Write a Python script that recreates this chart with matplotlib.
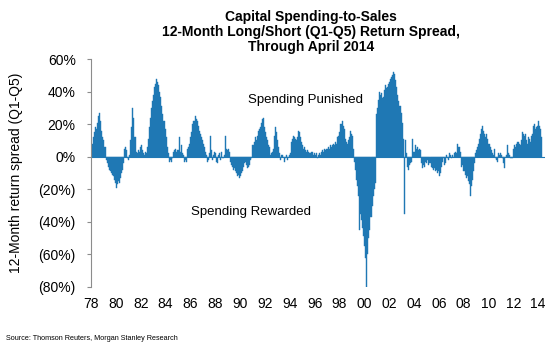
import numpy as np
import matplotlib
matplotlib.use('Agg')
import matplotlib.pyplot as plt

# ── Data: 12-month Q1-Q5 return spread (%), monthly, Jan 1978 - Apr 2014 ──────
start_year = 1978
spread_by_year = {
    1978: [4, 8, 12, 15, 18, 17, 21, 25, 27, 22, 16, 12],
    1979: [10, 6, -2, -4, -6, -8, -9, -10, -11, -12, -14, -16],
    1980: [-19, -17, -15, -16, -13, -10, -8, -4, 5, 6, 4, -1],
    1981: [-2, 1, 10, 18, 30, 24, 12, 3, 2, 4, 3, 6],
    1982: [7, 4, 2, 1, 3, 2, 6, 11, 18, 24, 30, 34],
    1983: [38, 43, 45, 48, 46, 44, 40, 37, 31, 26, 22, 17],
    1984: [12, 6, 2, -3, -2, -3, -1, 3, 4, 5, 3, 4],
    1985: [4, 12, 3, 7, 2, 1, -3, -2, -3, 5, 6, 8],
    1986: [12, 15, 20, 22, 25, 23, 22, 19, 16, 14, 12, 10],
    1987: [8, 6, 3, 1, -3, -2, 2, 13, 4, -2, 1, 3],
    1988: [2, -3, -4, 1, 2, -2, 3, -1, 1, 13, 5, 4],
    1989: [5, 3, -3, -5, -6, -8, -7, -9, -10, -12, -11, -13],
    1990: [-12, -10, -9, -6, -4, -3, -5, -7, -6, -5, -2, -1],
    1991: [7, 9, 12, 10, 13, 16, 17, 18, 21, 23, 24, 18],
    1992: [15, 12, 10, 7, 6, 1, 2, 3, 5, 13, 18, 15],
    1993: [10, 6, 2, -2, 1, 0, -3, -1, 1, -2, 0, 1],
    1994: [2, 9, 11, 13, 12, 11, 10, 12, 16, 15, 12, 9],
    1995: [7, 5, 6, 4, 3, 4, 3, 2, 2, 3, 1, 2],
    1996: [1, 2, -1, 1, 2, 1, 3, 4, 3, 5, 4, 5],
    1997: [5, 6, 5, 7, 6, 7, 8, 7, 9, 8, 12, 13],
    1998: [15, 20, 22, 19, 17, 11, 9, 8, 10, 12, 16, 14],
    1999: [13, 5, -3, -8, -14, -18, -24, -45, -35, -39, -44, -49],
    2000: [-55, -62, -81, -60, -50, -45, -37, -30, -24, -20, -16, 26],
    2001: [30, 35, 40, 38, 39, 36, 37, 41, 44, 42, 43, 45],
    2002: [46, 48, 49, 50, 52, 51, 47, 43, 38, 34, 31, 27],
    2003: [21, 11, -35, 10, 2, -6, -8, -5, -4, -3, 11, 3],
    2004: [3, 7, 5, 6, 4, 5, 4, -4, -7, -5, -6, -3],
    2005: [-4, -2, -5, -4, -6, -7, -8, -7, -9, -8, -10, -9],
    2006: [-12, -10, -6, -3, -1, -5, -4, 1, -1, -2, 2, 1],
    2007: [-1, 1, 0, 2, 3, 2, 8, 6, 3, -6, -5, -9],
    2008: [-9, -11, -13, -12, -15, -17, -24, -18, -14, -9, -4, 2],
    2009: [4, 6, 8, 11, 14, 17, 19, 16, 14, 12, 14, 11],
    2010: [8, 6, 4, 2, 1, 5, -1, -2, -3, 2, 1, 2],
    2011: [1, -1, -4, -7, 0, 1, 7, 2, 1, -1, -1, -1],
    2012: [5, 7, 6, 8, 9, 8, 7, 10, 15, 14, 13, 14],
    2013: [10, 8, 12, 11, 9, 13, 14, 19, 20, 17, 18, 19],
    2014: [22, 19, 17, 12],
}

spread = [v for yr in sorted(spread_by_year) for v in spread_by_year[yr]]
x_dates = [start_year + i / 12 for i in range(len(spread))]

tick_years = list(range(1978, 2015, 2))
tick_labels = [f"{y % 100:02d}" for y in tick_years]
y_ticks = [60, 40, 20, 0, -20, -40, -60, -80]
y_labels = ['60%', '40%', '20%', '0%', '(20%)', '(40%)', '(60%)', '(80%)']

# ── Style ─────────────────────────────────────────────────────────────────────
plt.rcParams['font.family'] = ['Liberation Sans', 'DejaVu Sans']
C_BAR = '#1f78b4'
C_AXIS = '#8c8c8c'

fig = plt.figure(figsize=(5.55, 3.56), dpi=100)
ax = fig.add_axes([0.164, 0.194, 0.818, 0.640])

ax.bar(x_dates, spread, width=1 / 12, align='edge', color=C_BAR,
       edgecolor=C_BAR, linewidth=0.3)
ax.axhline(0, color=C_BAR, linewidth=0.8)

ax.set_xlim(1978, 2014.55)
ax.set_ylim(-80, 60)

ax.set_xticks(tick_years)
ax.set_xticklabels(tick_labels, fontsize=10)
ax.tick_params(axis='x', length=0, pad=7)

ax.set_yticks(y_ticks)
ax.set_yticklabels(y_labels, fontsize=10)
ax.tick_params(axis='y', length=3, color=C_AXIS, pad=8)

for side in ['top', 'right', 'bottom']:
    ax.spines[side].set_visible(False)
ax.spines['left'].set_color(C_AXIS)
ax.spines['left'].set_linewidth(0.8)

ax.set_ylabel('12-Month return spread (Q1-Q5)', fontsize=10, labelpad=11)

ax.text(1995.3, 35, 'Spending Punished', fontsize=9.5, ha='center', va='center')
ax.text(1990.9, -34, 'Spending Rewarded', fontsize=9.5, ha='center', va='center')

fig.text(0.56, 0.972, 'Capital Spending-to-Sales\n'
         '12-Month Long/Short (Q1-Q5) Return Spread,\nThrough April 2014',
         ha='center', va='top', fontsize=10, fontweight='bold', linespacing=1.1)

fig.text(0.01, 0.05, 'Source: Thomson Reuters, Morgan Stanley Research',
         fontsize=5.2, ha='left', va='center')

fig.savefig('out.png', dpi=100)
